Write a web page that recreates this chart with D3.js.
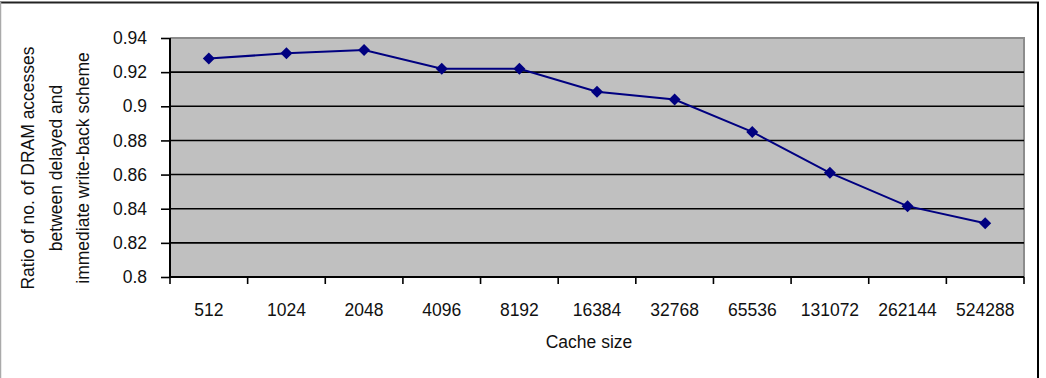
<!DOCTYPE html>
<html>
<head>
<meta charset="utf-8">
<script src="https://cdn.jsdelivr.net/npm/d3@7"></script>
<style>
  body { margin:0; background:#fff; }
  svg { display:block; font-family:"Liberation Sans", Arial, sans-serif; }
  .axis text { font-size:17.5px; fill:#111; }
  .axis path { display:none; }
</style>
</head>
<body>
<div id="canvas"></div>
<script>
// data
var cacheSizes = ['512','1024','2048','4096','8192','16384','32768','65536','131072','262144','524288'];
var ratios = [0.928, 0.931, 0.933, 0.922, 0.922, 0.9085, 0.904, 0.885, 0.861, 0.8415, 0.8315];
var yTicks = [0.8, 0.82, 0.84, 0.86, 0.88, 0.9, 0.92, 0.94];
var yTitle = ['Ratio of no. of DRAM accesses', 'between delayed and', 'immediate write-back scheme'];
var xTitle = 'Cache size';

var W = 1046, H = 378;
var m = {t:38, r:22, b:101, l:170};
var w = W - m.l - m.r, h = H - m.t - m.b;

var svg = d3.select('#canvas').append('svg')
    .attr('width', W).attr('height', H);

// outer frame
svg.append('line').attr('x1',0).attr('x2',1039).attr('y1',2.5).attr('y2',2.5)
    .attr('stroke','#222').attr('stroke-width',2);
svg.append('line').attr('x1',0.5).attr('x2',0.5).attr('y1',2).attr('y2',H)
    .attr('stroke','#aaa').attr('stroke-width',1.5);
svg.append('line').attr('x1',1038).attr('x2',1038).attr('y1',2).attr('y2',H)
    .attr('stroke','#000').attr('stroke-width',2);

var plot = svg.append('g').attr('transform','translate(' + m.l + ',' + m.t + ')');

var x = d3.scaleBand().domain(cacheSizes).range([0, w]).padding(0);
var y = d3.scaleLinear().domain([0.8, 0.94]).range([h, 0]);

// plot background
plot.append('rect').attr('width', w).attr('height', h).attr('fill','#c0c0c0');
// top / right grey border
plot.append('path').attr('d','M0,0H' + w + 'V' + h)
    .attr('fill','none').attr('stroke','#8c8c8c').attr('stroke-width',2);

// gridlines
plot.selectAll('.grid').data(yTicks.slice(1, -1)).enter()
    .append('line').attr('class','grid')
    .attr('x1',0).attr('x2',w)
    .attr('y1',function(d){return y(d);}).attr('y2',function(d){return y(d);})
    .attr('stroke','#000').attr('stroke-width',1.6);

// y axis
var axisY = d3.axisLeft(y).tickValues(yTicks).tickSize(9).tickPadding(14)
    .tickFormat(function(d){return String(+d.toFixed(2));});
var gy = plot.append('g').attr('class','axis axis-y').call(axisY);
gy.selectAll('line').attr('stroke','#000').attr('stroke-width',1.6);
plot.append('line').attr('x1',0).attr('x2',0).attr('y1',0).attr('y2',h)
    .attr('stroke','#000').attr('stroke-width',2);

// x axis: labels centred on bands, ticks at band edges
var axisX = d3.axisBottom(x).tickSize(0).tickPadding(27);
var gx = plot.append('g').attr('class','axis axis-x')
    .attr('transform','translate(0,' + h + ')').call(axisX);
var edges = cacheSizes.map(function(c){return x(c);}).concat([w]);
gx.selectAll('.edge').data(edges).enter()
    .append('line').attr('class','edge')
    .attr('x1',function(d){return d;}).attr('x2',function(d){return d;})
    .attr('y1',0).attr('y2',7)
    .attr('stroke','#000').attr('stroke-width',1.6);
plot.append('line').attr('x1',0).attr('x2',w).attr('y1',h).attr('y2',h)
    .attr('stroke','#000').attr('stroke-width',2);

// series line
var line = d3.line()
    .x(function(d,i){return x(cacheSizes[i]) + x.bandwidth()/2;})
    .y(function(d){return y(d);});
plot.append('path').datum(ratios).attr('d', line)
    .attr('fill','none').attr('stroke','#000080').attr('stroke-width',2);

// diamond markers
var diamond = d3.symbol().type(d3.symbolSquare).size(72);
plot.selectAll('.pt').data(ratios).enter()
    .append('path').attr('class','pt')
    .attr('d', diamond)
    .attr('transform',function(d,i){
        return 'translate(' + (x(cacheSizes[i]) + x.bandwidth()/2) + ',' + y(d) + ') rotate(45)';
    })
    .attr('fill','#000080');

// axis titles
svg.append('text').attr('x', 589).attr('y', 348)
    .attr('text-anchor','middle').style('font-size','17.5px').style('fill','#111').text(xTitle);

var yt = svg.append('text')
    .attr('transform','translate(0,168) rotate(-90)')
    .attr('text-anchor','middle').style('font-size','17.5px').style('fill','#111');
yt.selectAll('tspan').data(yTitle).enter()
    .append('tspan').attr('x',0)
    .attr('y',function(d,i){return 34 + i*27.5;})
    .text(function(d){return d;});
</script>
</body>
</html>
